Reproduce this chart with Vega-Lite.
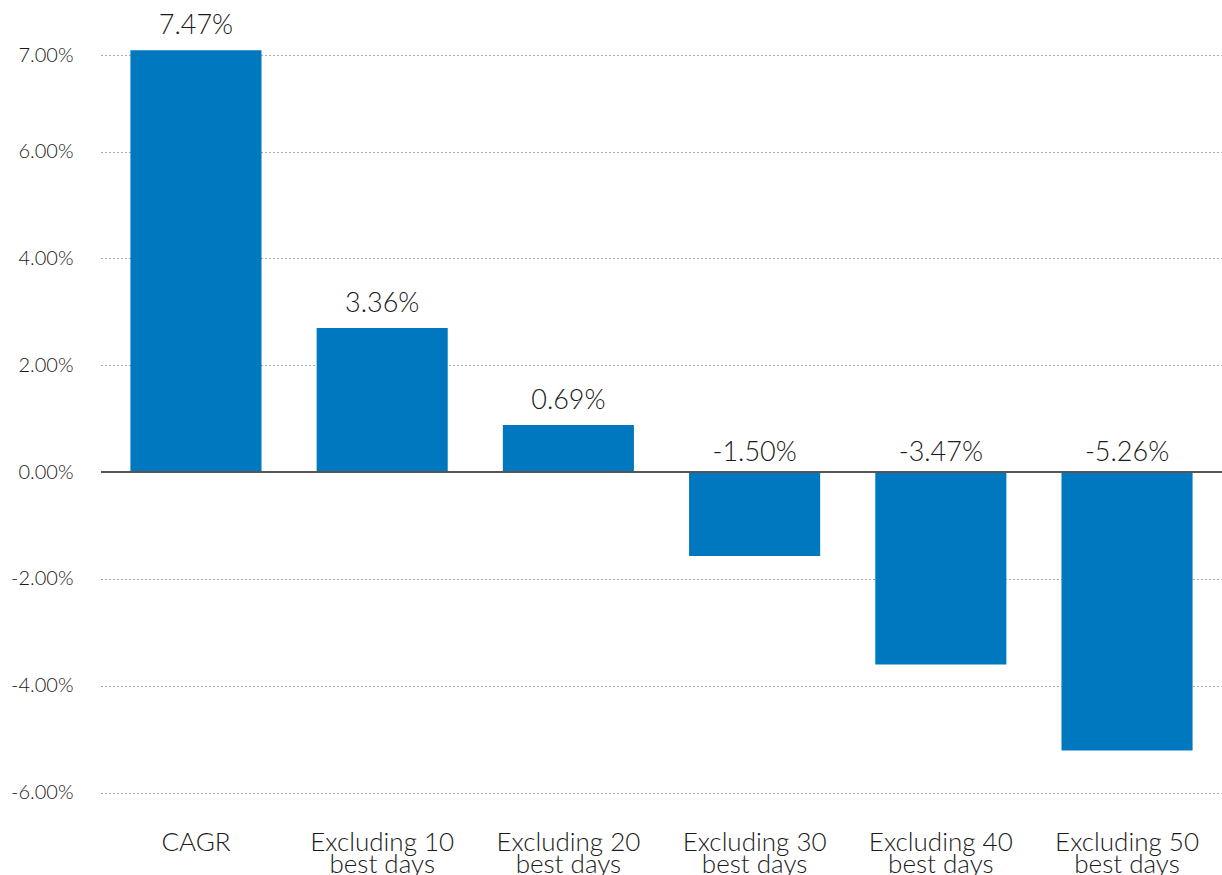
{
  "$schema": "https://vega.github.io/schema/vega-lite/v6.json",
  "autosize": {"type": "none"},
  "padding": {"left": 101, "top": 55, "right": 0, "bottom": 60},
  "width": 1121,
  "height": 760,
  "background": "white",
  "config": {
    "view": {"stroke": null},
    "font": "Lato",
    "text": {"font": "Lato"}
  },
  "data": {
    "values": [
      {"category": "CAGR", "value": 7.9, "label": "7.47%"},
      {"category": "Excluding 10 best days", "value": 2.7, "label": "3.36%"},
      {"category": "Excluding 20 best days", "value": 0.88, "label": "0.69%"},
      {"category": "Excluding 30 best days", "value": -1.57, "label": "-1.50%"},
      {"category": "Excluding 40 best days", "value": -3.6, "label": "-3.47%"},
      {"category": "Excluding 50 best days", "value": -5.21, "label": "-5.26%"}
    ]
  },
  "encoding": {
    "x": {
      "field": "category",
      "type": "nominal",
      "sort": null,
      "scale": {"paddingInner": 0.296, "paddingOuter": 0.158},
      "axis": {
        "title": null,
        "domain": false,
        "ticks": false,
        "tickSize": 0,
        "labelAngle": 0,
        "labelFont": "Lato",
        "labelFontSize": 26,
        "labelFontWeight": 300,
        "labelColor": "#1a1a1a",
        "labelPadding": 14,
        "labelLineHeight": 22,
        "labelBaseline": "top",
        "labelExpr": "indexof(datum.value, ' best') > 0 ? [slice(datum.value, 0, indexof(datum.value, ' best')), 'best days'] : datum.value"
      }
    }
  },
  "layer": [
    {
      "mark": {"type": "bar", "color": "#0078BF"},
      "encoding": {
        "y": {
          "field": "value",
          "type": "quantitative",
          "scale": {"domain": [-6.42, 7.81], "nice": false, "zero": false},
          "axis": {
            "title": null,
            "domain": false,
            "ticks": false,
            "tickSize": 0,
            "values": [-6, -4, -2, 0, 2, 4, 6, 7.81],
            "labelExpr": "datum.value > 7 ? '7.00%' : (datum.value < 0 ? '-' : '') + format(abs(datum.value) / 100, '.2%')",
            "labelFont": "Lato",
            "labelFontSize": 20,
            "labelFontWeight": 300,
            "labelColor": "#1a1a1a",
            "labelPadding": 28,
            "grid": true,
            "gridColor": "#555555",
            "gridDash": [1, 3],
            "gridWidth": 1
          }
        }
      }
    },
    {
      "mark": {"type": "rule", "color": "#555555", "strokeWidth": 2},
      "encoding": {"y": {"datum": 0, "type": "quantitative"}, "x": null}
    },
    {
      "transform": [{"filter": "datum.value >= 0"}],
      "mark": {"type": "text", "baseline": "bottom", "dy": -10, "fontSize": 27, "fontWeight": 300, "color": "#1a1a1a", "font": "Lato"},
      "encoding": {
        "y": {"field": "value", "type": "quantitative"},
        "text": {"field": "label"}
      }
    },
    {
      "transform": [{"filter": "datum.value < 0"}],
      "mark": {"type": "text", "baseline": "bottom", "dy": -5, "fontSize": 27, "fontWeight": 300, "color": "#1a1a1a", "font": "Lato"},
      "encoding": {
        "y": {"datum": 0, "type": "quantitative"},
        "text": {"field": "label"}
      }
    }
  ]
}
